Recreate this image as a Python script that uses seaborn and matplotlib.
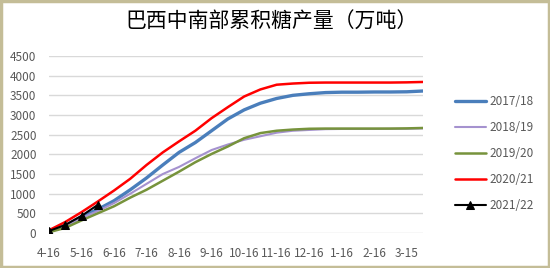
import numpy as np
import pandas as pd
import matplotlib
matplotlib.use("Agg")
import matplotlib.pyplot as plt
from matplotlib.patches import Rectangle
import seaborn as sns

dates = ["4-16", "5-1", "5-16", "6-1", "6-16", "7-1", "7-16", "8-1", "8-16", "9-1",
         "9-16", "10-1", "10-16", "11-1", "11-16", "12-1", "12-16", "1-1", "1-16", "2-1",
         "2-16", "3-1", "3-15", "4-1"]

s1718 = [40, 180, 420, 600, 820, 1100, 1400, 1730, 2050, 2300, 2600, 2900, 3130, 3300,
         3420, 3500, 3540, 3570, 3580, 3580, 3585, 3585, 3590, 3610]
s1819 = [30, 150, 380, 560, 760, 1000, 1250, 1500, 1680, 1900, 2110, 2250, 2370, 2460,
         2550, 2600, 2620, 2640, 2645, 2645, 2645, 2650, 2650, 2660]
s1920 = [20, 130, 320, 500, 680, 900, 1100, 1330, 1560, 1800, 2010, 2200, 2410, 2540,
         2600, 2630, 2650, 2655, 2655, 2655, 2655, 2655, 2660, 2670]
s2021 = [70, 280, 530, 800, 1080, 1380, 1730, 2050, 2330, 2600, 2920, 3200, 3470, 3650,
         3770, 3800, 3820, 3825, 3825, 3825, 3825, 3825, 3830, 3840]
s2122 = [50, 205, 435, 716]

series_names = ["2017/18", "2018/19", "2019/20", "2020/21", "2021/22"]
series_vals = [s1718, s1819, s1920, s2021, s2122]
colors = ["#4A7EBB", "#A592CF", "#77933C", "#FF0000", "#000000"]
widths = [2.4, 1.5, 1.8, 1.8, 1.5]

title = "巴西中南部累积糖产量（万吨）"
yticks = [0, 500, 1000, 1500, 2000, 2500, 3000, 3500, 4000, 4500]

sns.set_theme(style="white")
plt.rcParams['font.family'] = ['Noto Sans CJK SC', 'DejaVu Sans']

fig = plt.figure(figsize=(5.5, 2.68), dpi=100)
fig.patch.set_facecolor("white")
ax = fig.add_axes([49/550, 1-233/268, (423-49)/550, (233-56)/268])

for name, vals, c, lw in zip(series_names, series_vals, colors, widths):
    df = pd.DataFrame({"x": np.arange(len(vals)), "y": vals})
    kw = {}
    if name == "2021/22":
        kw = dict(marker="^", markersize=6, markeredgecolor="black", markerfacecolor="black")
    sns.lineplot(data=df, x="x", y="y", ax=ax, color=c, linewidth=lw, label=name, **kw)

ax.set_xlim(0, len(dates) - 1)
ax.set_ylim(0, 4500)
ax.set_yticks(yticks)
ax.set_xticks(np.arange(0, len(dates), 2))
ax.set_xticklabels([dates[i] for i in range(0, len(dates), 2)])
ax.set_xlabel("")
ax.set_ylabel("")
ax.grid(axis="y", color="#D9D9D9", linewidth=1)
ax.set_axisbelow(True)
for sp in ax.spines.values():
    sp.set_visible(False)
ax.tick_params(axis="both", length=0, labelsize=8.5, labelcolor="#595959")
ax.tick_params(axis="x", pad=10)
ax.tick_params(axis="y", pad=9)

leg = ax.legend(loc="upper left", bbox_to_anchor=(455/550, 1-95/268),
                bbox_transform=fig.transFigure, frameon=False,
                fontsize=8.5, handlelength=2.6, labelspacing=1.1, handletextpad=0.3,
                borderaxespad=0, borderpad=0)
for t in leg.get_texts():
    t.set_color("#595959")

fig.text(0.493, 1 - 22/268, title, ha="center", va="center", fontsize=15, color="#000000")

fig.patches.append(Rectangle((0.002, 0.004), 0.996, 0.992, transform=fig.transFigure,
                             fill=False, edgecolor="#C4BD97", linewidth=2.5))

fig.savefig("out.png", dpi=100, facecolor="white")
